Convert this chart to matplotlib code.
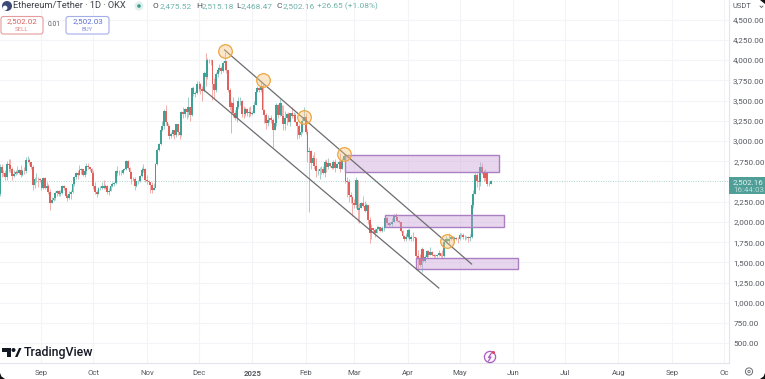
import matplotlib
matplotlib.use("Agg")
import matplotlib.pyplot as plt
import matplotlib.dates as mdates
import numpy as np
import pandas as pd
from matplotlib.patches import Rectangle, Circle, Polygon, FancyBboxPatch

plt.rcParams['font.family'] = ['Roboto', 'DejaVu Sans']

# daily candles, month by month
first_open = 2340
closes = [
    2680,2600,2610,2555,2720,2700,2660,2570,2590,2615,2610,2640,2575,2630,2625,2765,2770,2745,2680,2460,2525,2530,2525,2515,
    2425,2540,2425,2450,2370,2230,2275,2300,2360,2385,2340,2360,2440,2420,2315,2295,2340,2370,2465,2560,2610,2580,2645,2650,2580,2630,2695,2675,2660,2600,
    2450,2365,2350,2415,2415,2440,2425,2440,2370,2385,2440,2475,2480,2630,2605,2610,2605,2645,2650,2750,2665,2620,2525,2535,2440,2505,2505,2565,2640,2660,2515,
    2510,2495,2460,2400,2425,2720,2895,2960,3130,3180,3370,3240,3185,3060,3090,3130,3075,3205,3110,3070,3355,3330,3390,3360,3420,3325,3650,3575,3590,3700,
    3710,3640,3615,3835,3785,4000,3995,4005,3710,3630,3830,3880,3905,3870,3960,3985,3875,3630,3420,3470,3340,3280,3420,3490,3495,3335,3330,3400,3350,3360,3335,
    3350,3450,3610,3655,3635,3685,3380,3325,3220,3265,3280,3265,3135,3225,3450,3320,3470,3305,3215,3280,3330,3240,3340,3310,3320,3230,3180,3075,3110,3245,3300,
    3115,2870,2880,2730,2790,2690,2625,2630,2655,2660,2600,2735,2675,2725,2695,2665,2745,2670,2720,2740,2660,2770,2815,2510,2490,2335,2305,2235,
    2215,2520,2150,2175,2240,2200,2140,2205,2020,1865,1920,1905,1860,1910,1935,1885,1925,1930,2055,1985,1965,1980,2005,2080,2060,2010,2000,1895,1825,1790,1820,
    1905,1795,1815,1810,1805,1580,1555,1470,1665,1520,1565,1645,1595,1625,1590,1575,1585,1590,1615,1585,1575,1755,1795,1770,1790,1815,1790,1800,1795,1790,
    1840,1835,1810,1810,1815,1805,1810,2205,2345,2580,2510,2495,2680,2610,2545,2605,2475,2475,2502,
]
highs = [
    2720,2720,2640,2645,2750,2780,2780,2680,2640,2640,2690,2660,2700,2660,2680,2800,2820,2790,2700,2700,2560,2600,2560,2540,
    2520,2550,2550,2490,2470,2410,2310,2320,2380,2400,2390,2390,2460,2460,2420,2340,2385,2400,2490,2570,2620,2640,2700,2670,2650,2640,2730,2730,2680,2670,
    2640,2500,2400,2430,2440,2490,2520,2470,2460,2420,2460,2490,2490,2640,2690,2640,2640,2650,2670,2760,2770,2680,2625,2560,2550,2510,2520,2580,2680,2720,2670,
    2580,2520,2500,2500,2480,2730,2910,2980,3150,3250,3400,3440,3220,3200,3110,3140,3130,3210,3210,3120,3370,3420,3410,3400,3540,3420,3670,3680,3620,3740,
    3740,3720,3680,3870,4090,4020,4010,4010,4005,3780,3850,3910,3950,3920,3985,4100,3950,3880,3650,3500,3540,3380,3450,3540,3545,3510,3430,3420,3410,3420,3430,
    3370,3490,3620,3680,3670,3745,3700,3400,3340,3320,3290,3320,3290,3260,3470,3460,3520,3450,3450,3370,3350,3360,3350,3420,3360,3350,3250,3210,3170,3290,3425,
    3340,3150,2920,2890,2830,2860,2790,2660,2680,2690,2690,2770,2780,2790,2730,2730,2760,2780,2730,2760,2850,2790,2850,2840,2550,2530,2370,2320,
    2280,2550,2520,2230,2250,2320,2260,2230,2210,2060,1970,1920,1920,1950,1950,1940,1955,2040,2060,2065,2000,2000,2050,2100,2105,2060,2020,2000,1900,1840,1860,
    1910,1920,1840,1880,1820,1820,1650,1610,1690,1670,1590,1660,1650,1690,1640,1600,1610,1600,1660,1620,1660,1780,1830,1800,1860,1830,1830,1830,1810,1820,
    1870,1865,1870,1840,1830,1830,1850,2210,2400,2600,2600,2620,2740,2730,2640,2650,2620,2500,2515,
]
lows = [
    2320,2560,2570,2520,2520,2620,2620,2520,2550,2580,2590,2590,2560,2570,2590,2610,2740,2700,2660,2400,2420,2500,2430,2490,
    2400,2410,2410,2410,2340,2150,2230,2260,2270,2320,2320,2320,2350,2390,2310,2255,2280,2290,2360,2440,2530,2530,2580,2590,2570,2560,2590,2650,2630,2570,
    2410,2340,2310,2340,2400,2410,2410,2410,2350,2330,2380,2430,2440,2470,2570,2580,2580,2590,2640,2640,2650,2600,2470,2510,2390,2430,2470,2495,2560,2620,2490,
    2470,2480,2360,2360,2390,2430,2700,2880,2950,3120,3150,3200,3110,3030,3040,3060,3030,3050,3080,3020,3060,3280,3300,3270,3300,3250,3310,3560,3540,3580,
    3620,3580,3490,3610,3680,3770,3960,3940,3510,3520,3610,3790,3850,3830,3850,3880,3840,3610,3380,3100,3300,3260,3240,3400,3440,3300,3290,3310,3310,3300,3310,
    3320,3340,3450,3600,3600,3610,3360,3220,3150,3190,3240,3220,2920,3130,3190,3280,3310,3250,3130,3140,3200,3230,3190,3280,3270,3230,3020,3040,3060,3100,3260,
    3090,2740,2125,2650,2700,2650,2560,2580,2530,2590,2590,2550,2620,2650,2680,2650,2650,2620,2670,2690,2620,2650,2760,2480,2310,2250,2230,2080,
    2170,2170,2000,1990,2170,2180,2120,2160,1980,1740,1790,1860,1820,1860,1910,1880,1880,1890,1920,1960,1940,1960,1950,2000,2020,2000,1990,1880,1800,1770,1760,
    1800,1780,1760,1760,1770,1540,1410,1440,1385,1500,1510,1560,1570,1590,1580,1550,1570,1570,1580,1570,1540,1570,1740,1745,1740,1780,1780,1740,1780,1740,
    1780,1810,1795,1780,1790,1750,1770,1805,2175,2340,2430,2390,2440,2590,2510,2510,2450,2450,2468,
]

price_ticks = [500, 750, 1000, 1250, 1500, 1750, 2000, 2250, 2750, 3000, 3250, 3500, 3750, 4000, 4250, 4500]
price_labels = ['500.00', '750.00', '1,000.00', '1,250.00', '1,500.00', '1,750.00', '2,000.00', '2,250.00',
                '2,750.00', '3,000.00', '3,250.00', '3,500.00', '3,750.00', '4,000.00', '4,250.00', '4,500.00']
month_ticks = ['2024-09-01', '2024-10-01', '2024-11-01', '2024-12-01', '2025-01-01', '2025-02-01', '2025-03-01',
               '2025-04-01', '2025-05-01', '2025-06-01', '2025-07-01', '2025-08-01', '2025-09-01', '2025-10-01']
month_labels = ['Sep', 'Oct', 'Nov', 'Dec', '2025', 'Feb', 'Mar', 'Apr', 'May', 'Jun', 'Jul', 'Aug', 'Sep', 'Oc']

# drawings on the chart: start, end, low, high
zone_starts = ['2025-02-24', '2025-03-19', '2025-04-06']
zone_ends = ['2025-05-24', '2025-05-27', '2025-06-04']
zone_lows = [2617, 1942, 1420]
zone_highs = [2827, 2086, 1556]
circle_dates = ['2024-12-16', '2025-01-07', '2025-01-31', '2025-02-23', '2025-04-24']
circle_prices = [4110, 3753, 3296, 2839, 1765]
channel_dates = [['2024-12-16', '2025-05-08'], ['2024-12-04', '2025-04-19']]
channel_prices = [[4124, 1481], [3630, 1185]]
last_price = 2502.16

UP = '#3fa096'
DOWN = '#e2605c'
GRID = '#f3f4f7'
TEXT = '#55585f'

dates = pd.date_range('2024-08-08', periods=len(closes), freq='D')
x = mdates.date2num(dates)
closes = np.array(closes, dtype=float)
highs = np.array(highs, dtype=float)
lows = np.array(lows, dtype=float)
opens = np.append(first_open, closes[:-1])
colors = [UP if c >= o else DOWN for o, c in zip(opens, closes)]

W, H = 765, 379
fig = plt.figure(figsize=(W / 100, H / 100), dpi=100, facecolor='white')
ax = fig.add_axes([0, (H - 363) / H, 729 / W, 363 / H])

# grid + candles
ax.vlines(x, lows, highs, colors=colors, linewidth=0.7, alpha=0.5, zorder=2)
ax.bar(x, np.abs(closes - opens), bottom=np.minimum(opens, closes), width=1.05, color=colors, linewidth=0, zorder=3)
ax.axhline(last_price, color='#a9d3ce', linewidth=0.7, linestyle=(0, (1, 1.5)), zorder=1)

ax.set_xlim(mdates.date2num(pd.Timestamp('2024-08-08')), mdates.date2num(pd.Timestamp('2025-10-04')))
ax.set_ylim(259.1, 4741)
ax.set_xticks(mdates.date2num(pd.to_datetime(month_ticks)))
ax.set_xticklabels(month_labels)
ax.set_yticks(price_ticks)
ax.set_yticklabels(price_labels)
ax.yaxis.tick_right()
ax.tick_params(axis='both', length=0, labelcolor=TEXT)
ax.tick_params(axis='x', pad=5, labelsize=5.6)
ax.tick_params(axis='y', pad=3.0, labelsize=5.9)
ax.get_xticklabels()[4].set_fontweight('bold')
ax.grid(True, color=GRID, linewidth=0.8, zorder=0)
ax.set_axisbelow(True)
for side in ['top', 'left']:
    ax.spines[side].set_visible(False)
for side in ['right', 'bottom']:
    ax.spines[side].set_color('#e3e5ea')
    ax.spines[side].set_linewidth(0.8)

# zones
for s, e, lo, hi in zip(zone_starts, zone_ends, zone_lows, zone_highs):
    x0 = mdates.date2num(pd.Timestamp(s))
    x1 = mdates.date2num(pd.Timestamp(e))
    ax.add_patch(Rectangle((x0, lo), x1 - x0, hi - lo, facecolor='#c99fd8', alpha=0.42, edgecolor='none', zorder=4))
    ax.add_patch(Rectangle((x0, lo), x1 - x0, hi - lo, facecolor='none', edgecolor='#ab7fc4', linewidth=1.0, zorder=4))

# channel lines
for d, p in zip(channel_dates, channel_prices):
    ax.plot(mdates.date2num(pd.to_datetime(d)), p, color='#6d6d70', linewidth=0.9, zorder=5)

# circles
ax.scatter(mdates.date2num(pd.to_datetime(circle_dates)), circle_prices, s=96, facecolor='#f5c27a66',
           edgecolor='#eda63f', linewidth=0.9, zorder=6)

# screenshot chrome in pixel space
ui = fig.add_axes([0, 0, 1, 1], facecolor='none')
ui.set_xlim(0, W)
ui.set_ylim(H, 0)
ui.axis('off')

# header
ui.add_patch(Circle((7, 6), 5, facecolor='#3c4a78', edgecolor='none'))
ui.add_patch(Circle((5, 8), 2.4, facecolor='white', edgecolor='none'))
ui.text(13, 6, 'Ethereum/Tether · 1D · OKX', fontsize=6.7, color='#3f4249', va='center')
ui.add_patch(Circle((139, 6), 4.5, facecolor='#dff0ed', edgecolor='none'))
ui.add_patch(Circle((139, 6), 1.8, facecolor='#3f9a8e', edgecolor='none'))
for xl, xv, k, v in [(153, 160, 'O', '2,475.52'), (196, 202, 'H', '2,515.18'), (236, 241, 'L', '2,468.47'), (277, 283, 'C', '2,502.16')]:
    ui.text(xl, 6, k, fontsize=6.0, color='#4a4d55', va='center')
    ui.text(xv, 6, v, fontsize=6.0, color='#6fb3aa', va='center')
ui.text(317, 6, '+26.65 (+1.08%)', fontsize=6.0, color='#6fb3aa', va='center')

ui.add_patch(FancyBboxPatch((1, 16.5), 42, 17.5, boxstyle='round,pad=0,rounding_size=2.5', facecolor='white', edgecolor='#e59c9c', linewidth=0.8))
ui.text(22, 21.5, '2,502.02', fontsize=5.8, color='#d9605f', ha='center', va='center')
ui.text(22, 29.5, 'SELL', fontsize=4.4, color='#dc8a8a', ha='center', va='center')
ui.text(54, 25, '0.01', fontsize=4.8, color=TEXT, ha='center', va='center')
ui.add_patch(FancyBboxPatch((66, 16.5), 43, 17.5, boxstyle='round,pad=0,rounding_size=2.5', facecolor='white', edgecolor='#a3aee8', linewidth=0.8))
ui.text(87.5, 21.5, '2,502.03', fontsize=5.8, color='#5d6fd6', ha='center', va='center')
ui.text(87.5, 29.5, 'BUY', fontsize=4.4, color='#8b97df', ha='center', va='center')

ui.text(733, 6.5, 'USDT', fontsize=5.4, color=TEXT, va='center')
ui.plot([760, 761.5, 763], [6, 7.5, 6], color=TEXT, linewidth=0.6)

# last price tag
ui.add_patch(Rectangle((729, 177), 36, 17, facecolor='#4f9e97', edgecolor='none'))
ui.text(733, 182, '2,502.16', fontsize=5.8, color='#e6f3f1', va='center')
ui.text(733, 189.5, '16:44:03', fontsize=5.8, color='#b8dcd7', va='center')

# TradingView logo
ui.add_patch(Polygon([[2, 348], [11, 348], [11, 357], [7, 357], [7, 352], [2, 352]], closed=True, facecolor='#131722', edgecolor='none'))
ui.add_patch(Circle((13.5, 350), 2, facecolor='#131722', edgecolor='none'))
ui.add_patch(Polygon([[15, 357], [19, 348], [21.5, 348], [17.5, 357]], closed=True, facecolor='#131722', edgecolor='none'))
ui.text(23.5, 352.5, 'TradingView', fontsize=8.9, color='#131722', va='center', fontweight='medium')

# lightning icon
ui.add_patch(Circle((490, 357), 5.6, facecolor='#fbf5fc', edgecolor='#a65fc2', linewidth=0.9))
ui.plot([491.5, 488.5, 491, 488.5], [353, 357.5, 357, 361], color='#a65fc2', linewidth=0.9)
ui.add_patch(Circle((493.5, 352.5), 1.5, facecolor='#e2405c', edgecolor='none'))

# settings gear
ui.add_patch(Circle((749, 371.5), 3.6, facecolor='white', edgecolor='#6a6d75', linewidth=0.7))
ui.add_patch(Circle((749, 371.5), 1.2, facecolor='white', edgecolor='#6a6d75', linewidth=0.6))

# rounded screenshot corners
ui.add_patch(Polygon([[0, 379], [0, 373], [1.5, 376.5], [5, 379]], closed=True, facecolor='#111111', edgecolor='none'))
ui.add_patch(Polygon([[765, 379], [765, 373], [763.5, 376.5], [760, 379]], closed=True, facecolor='#111111', edgecolor='none'))
ui.add_patch(Polygon([[765, 4], [765, 0], [760, 0]], closed=True, facecolor='#111111', edgecolor='none'))

fig.savefig('out.png', dpi=100)
